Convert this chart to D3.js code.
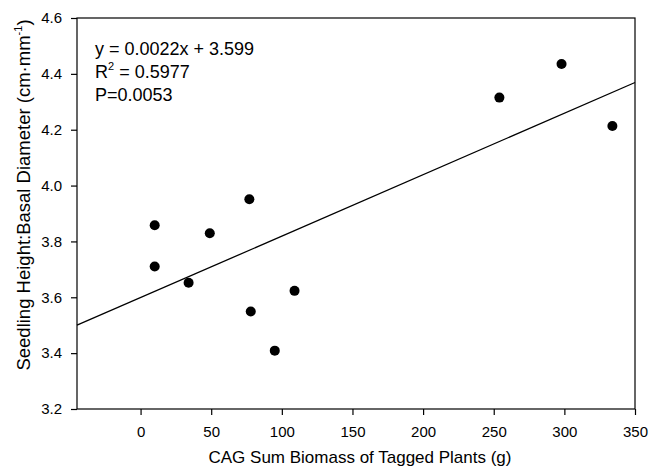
<!DOCTYPE html>
<html>
<head>
<meta charset="utf-8">
<script src="https://cdn.jsdelivr.net/npm/d3@7"></script>
<style>
  html, body { margin: 0; padding: 0; background: #fff; }
  svg { display: block; font-family: "Liberation Sans", Arial, sans-serif; }
</style>
</head>
<body>
<div id="chart"></div>
<script>
// biomass (g) and height:diameter ratio
const biomass = [10, 10, 34, 49, 77, 78, 95, 109, 254, 298, 334];
const ratio = [3.858, 3.710, 3.652, 3.829, 3.951, 3.549, 3.409, 3.623, 4.315, 4.435, 4.213];
const xTicks = [0, 50, 100, 150, 200, 250, 300, 350];
const yTicks = [3.2, 3.4, 3.6, 3.8, 4.0, 4.2, 4.4, 4.6];
const fit = { slope: 0.0022, intercept: 3.599 };
const statLines = ['y = 0.0022x + 3.599', 'R2', 'P=0.0053'];

const width = 659, height = 467;
const margin = { top: 18, right: 24, bottom: 58, left: 77 };

const svg = d3.select('#chart').append('svg')
  .attr('width', width).attr('height', height);

const x = d3.scaleLinear().domain([-45, 350]).range([margin.left, width - margin.right]);
const y = d3.scaleLinear().domain([3.2, 4.6]).range([height - margin.bottom, margin.top]);

// frame
svg.append('rect')
  .attr('x', margin.left).attr('y', margin.top)
  .attr('width', width - margin.left - margin.right)
  .attr('height', height - margin.top - margin.bottom)
  .attr('fill', 'none').attr('stroke', '#000').attr('stroke-width', 1.2);

const xAxis = svg.append('g')
  .attr('transform', `translate(0,${height - margin.bottom})`)
  .call(d3.axisBottom(x).tickValues(xTicks).tickSize(6).tickPadding(11).tickFormat(d3.format('d')));
const yAxis = svg.append('g')
  .attr('transform', `translate(${margin.left},0)`)
  .call(d3.axisLeft(y).tickValues(yTicks).tickSize(6).tickPadding(9).tickFormat(d3.format('.1f')));

[xAxis, yAxis].forEach((g) => {
  g.select('.domain').remove();
  g.selectAll('.tick line').attr('stroke', '#000').attr('stroke-width', 1.2);
  g.selectAll('.tick text').attr('font-size', 15).attr('fill', '#000')
    .attr('font-family', '"Liberation Sans", Arial, sans-serif');
});

// regression line over the full x range
const [x0, x1] = x.domain();
svg.append('line')
  .attr('x1', x(x0)).attr('y1', y(fit.intercept + fit.slope * x0))
  .attr('x2', x(x1)).attr('y2', y(fit.intercept + fit.slope * x1))
  .attr('stroke', '#000').attr('stroke-width', 1.3);

svg.append('g').selectAll('circle')
  .data(biomass.map((b, i) => [b, ratio[i]]))
  .join('circle')
  .attr('cx', (d) => x(d[0]))
  .attr('cy', (d) => y(d[1]))
  .attr('r', 5)
  .attr('fill', '#000');

// stats text
const stats = svg.append('g').attr('font-size', 18).attr('fill', '#000');
stats.append('text').attr('x', 95).attr('y', 55).text(statLines[0]);
const r2 = stats.append('text').attr('x', 95).attr('y', 78);
r2.append('tspan').text('R');
r2.append('tspan').attr('dy', -8).attr('font-size', 11).text('2');
r2.append('tspan').attr('dy', 8).text(' = 0.5977');
stats.append('text').attr('x', 95).attr('y', 101).text(statLines[2]);

// axis titles
svg.append('text')
  .attr('x', 360)
  .attr('y', 463)
  .attr('text-anchor', 'middle')
  .attr('font-size', 17)
  .text('CAG Sum Biomass of Tagged Plants (g)');

const yl = svg.append('text')
  .attr('transform', 'translate(30,195) rotate(-90)')
  .attr('text-anchor', 'middle')
  .attr('font-size', 18.5);
yl.append('tspan').text('Seedling Height:Basal Diameter (cm·mm');
yl.append('tspan').attr('dy', -8).attr('font-size', 11).text('-1');
yl.append('tspan').attr('dy', 8).text(')');
</script>
</body>
</html>
